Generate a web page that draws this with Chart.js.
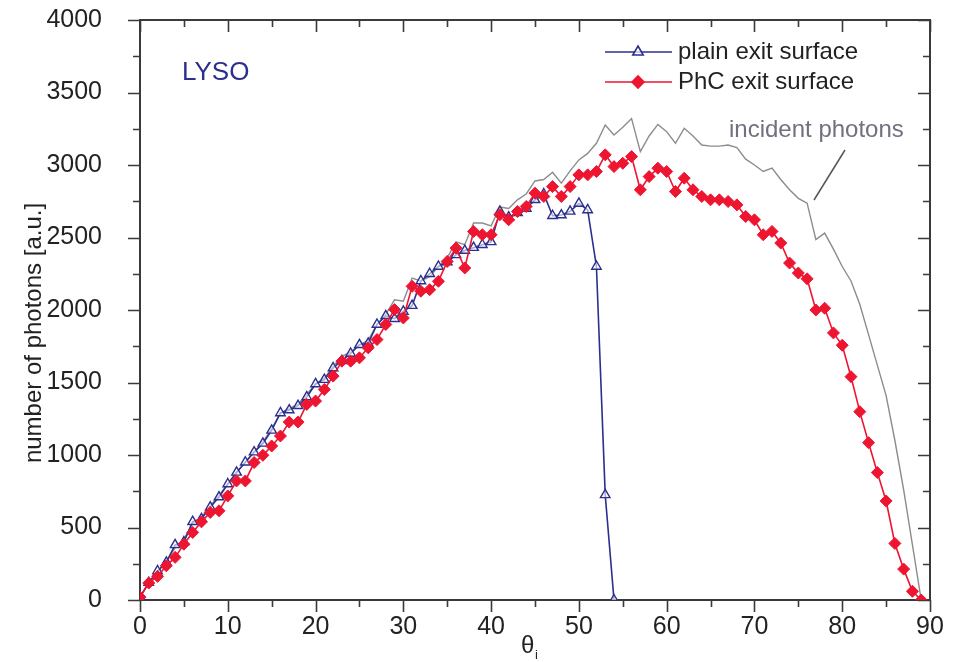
<!DOCTYPE html>
<html>
<head>
<meta charset="utf-8">
<script src="https://cdn.jsdelivr.net/npm/chart.js@4.4.1/dist/chart.umd.min.js"></script>
<style>
  html, body { margin: 0; padding: 0; background: #fff; }
  #wrap { width: 959px; height: 662px; }
</style>
</head>
<body>
<div id="wrap"><canvas id="ctx_lyso" width="959" height="662"></canvas></div>
<script>
// angles of incidence (deg)
const angles = [0,1,2,3,4,5,6,7,8,9,10,11,12,13,14,15,16,17,18,19,20,21,22,23,24,25,26,27,28,29,
  30,31,32,33,34,35,36,37,38,39,40,41,42,43,44,45,46,47,48,49,50,51,52,53,54,55,56,57,58,59,
  60,61,62,63,64,65,66,67,68,69,70,71,72,73,74,75,76,77,78,79,80,81,82,83,84,85,86,87,88,89]

// incident photons (grey line)
const incident = [20,120,190,270,360,420,530,570,650,720,800,880,950,1020,1090,1180,1290,1320,1350,1420,
  1490,1530,1610,1680,1710,1760,1790,1900,1970,2070,2060,2220,2200,2230,2300,2360,2470,2450,2600,2600,
  2580,2710,2700,2760,2800,2890,2900,2950,2875,2960,3035,3080,3150,3276,3207,3260,3320,3092,3200,3280,
  3230,3150,3253,3200,3138,3130,3130,3138,3120,3040,3000,2955,2978,2900,2830,2770,2737,2485,2530,2420,
  2300,2200,2040,1830,1620,1410,1100,760,380,0]

// plain exit surface (0..54 deg)
const plain = [20,120,200,260,380,400,540,560,640,710,800,880,950,1020,1080,1170,1290,1310,1340,1400,
  1490,1520,1600,1650,1700,1760,1770,1900,1960,1940,1990,2030,2200,2250,2300,2330,2380,2410,2430,2450,
  2470,2680,2640,2670,2700,2760,2800,2650,2655,2680,2735,2690,2300,725,0]

// PhC exit surface
const phc = [20,117,163,236,294,385,466,539,604,615,718,821,821,948,998,1062,1131,1227,1227,1349,
  1372,1452,1544,1647,1647,1670,1739,1796,1900,2003,1945,2163,2129,2140,2198,2335,2427,2290,2542,2519,
  2519,2657,2622,2679,2714,2806,2783,2851,2783,2851,2932,2932,2955,3070,2989,3012,3058,2829,2920,2978,
  2955,2817,2909,2829,2783,2760,2760,2748,2725,2645,2622,2519,2542,2462,2324,2255,2215,2000,2012,1842,
  1757,1540,1299,1085,879,683,390,213,60,0]

const xTicks = [0,10,20,30,40,50,60,70,80,90]
const yTicks = [0,500,1000,1500,2000,2500,3000,3500,4000]

const FONT = '"Liberation Sans", Arial, sans-serif'
const BLUE = '#2b2f8e'
const RED = '#ee1531'
const GREY = '#8c8c8c'

const pts = (ys) => ys.map((v, i) => ({ x: angles[i], y: v }))

// frame, tick marks, titles, legend, annotation
const decor = {
  id: 'decor',
  beforeDatasetsDraw(chart) {
    const c = chart.ctx, a = chart.chartArea
    const xs = chart.scales.x, ys = chart.scales.y
    c.save()
    c.strokeStyle = '#3a3a3a'
    c.lineWidth = 2
    c.strokeRect(a.left, a.top, a.right - a.left, a.bottom - a.top)
    c.lineWidth = 1.6
    c.beginPath()
    for (let v = 0; v <= 90; v += 5) {
      const px = Math.round(xs.getPixelForValue(v)) + 0.5
      const L = v % 10 === 0 ? 12 : 7
      c.moveTo(px, a.bottom); c.lineTo(px, a.bottom + L)
      c.moveTo(px, a.top); c.lineTo(px, a.top + L)
    }
    for (let v = 0; v <= 4000; v += 250) {
      const py = Math.round(ys.getPixelForValue(v)) + 0.5
      const L = v % 500 === 0 ? 12 : 7
      c.moveTo(a.left, py); c.lineTo(a.left - L, py)
      c.moveTo(a.right, py); c.lineTo(a.right - L, py)
    }
    c.stroke()
    c.restore()
  },
  afterDraw(chart) {
    const c = chart.ctx
    c.save()
    c.fillStyle = '#222'
    c.textBaseline = 'middle'

    // y title
    c.save()
    c.translate(34, 333)
    c.rotate(-Math.PI / 2)
    c.textAlign = 'center'
    c.font = '24px ' + FONT
    c.fillText('number of photons [a.u.]', 0, 0)
    c.restore()

    // x title  θ_i
    c.textAlign = 'left'
    c.font = '24px ' + FONT
    c.fillText('θ', 521, 646)
    c.font = '13px ' + FONT
    c.fillText('i', 535, 655)

    // LYSO
    c.fillStyle = BLUE
    c.font = '26px ' + FONT
    c.fillText('LYSO', 182, 73)

    // legend
    const items = [
      { text: 'plain exit surface', color: BLUE, style: 'triangle', fill: 'rgba(255,255,255,0.7)', y: 52 },
      { text: 'PhC exit surface', color: RED, style: 'rectRot', fill: RED, y: 82 }
    ]
    items.forEach(it => {
      c.strokeStyle = it.color
      c.lineWidth = 1.6
      c.beginPath(); c.moveTo(605, it.y); c.lineTo(672, it.y); c.stroke()
      c.fillStyle = it.fill
      Chart.helpers.drawPoint(c, { pointStyle: it.style, radius: 6, borderWidth: 1.5 }, 638, it.y)
      c.fillStyle = '#222'
      c.font = '24px ' + FONT
      c.fillText(it.text, 678, it.y)
    })

    // incident photons label + pointer
    c.fillStyle = '#707080'
    c.font = '24px ' + FONT
    c.fillText('incident photons', 729, 130)
    c.strokeStyle = '#555'
    c.lineWidth = 1.5
    c.beginPath(); c.moveTo(845, 150); c.lineTo(814, 200); c.stroke()
    c.restore()
  }
}

new Chart(document.getElementById('ctx_lyso').getContext('2d'), {
  type: 'line',
  data: {
    datasets: [
      {
        label: 'PhC exit surface',
        data: pts(phc),
        borderColor: RED,
        backgroundColor: RED,
        borderWidth: 1.6,
        pointStyle: 'rectRot',
        pointRadius: 6,
        pointBorderWidth: 1,
        pointBackgroundColor: RED,
        pointBorderColor: RED,
        tension: 0,
        order: 0
      },
      {
        label: 'plain exit surface',
        data: pts(plain),
        borderColor: BLUE,
        borderWidth: 1.6,
        pointStyle: 'triangle',
        pointRadius: 5.5,
        pointBorderWidth: 1.4,
        pointBackgroundColor: 'rgba(255,255,255,0.6)',
        pointBorderColor: BLUE,
        tension: 0,
        order: 1
      },
      {
        label: 'incident photons',
        data: pts(incident),
        borderColor: GREY,
        borderWidth: 1.4,
        pointRadius: 0,
        tension: 0,
        order: 2
      }
    ]
  },
  options: {
    responsive: false,
    animation: false,
    layout: { padding: { left: 0, right: 29, top: 20, bottom: 0 } },
    plugins: {
      legend: { display: false },
      tooltip: { enabled: false }
    },
    scales: {
      x: {
        type: 'linear',
        min: 0,
        max: 90,
        afterBuildTicks: (s) => { s.ticks = xTicks.map(v => ({ value: v })) },
        afterFit: (s) => { s.height = 62; s.paddingLeft = 0; s.paddingRight = 0 },
        grid: { display: false, drawTicks: false },
        border: { display: false },
        ticks: {
          padding: 12, color: '#222', font: { family: FONT, size: 25 }, maxRotation: 0,
          callback: (v) => String(v)
        }
      },
      y: {
        type: 'linear',
        min: 0,
        max: 4000,
        afterBuildTicks: (s) => { s.ticks = yTicks.map(v => ({ value: v })) },
        afterFit: (s) => { s.width = 140; s.paddingTop = 0; s.paddingBottom = 0 },
        grid: { display: false, drawTicks: false },
        border: { display: false },
        ticks: {
          padding: 38, color: '#222', font: { family: FONT, size: 25 },
          callback: (v) => String(v)
        }
      }
    }
  },
  plugins: [decor]
})
</script>
</body>
</html>
